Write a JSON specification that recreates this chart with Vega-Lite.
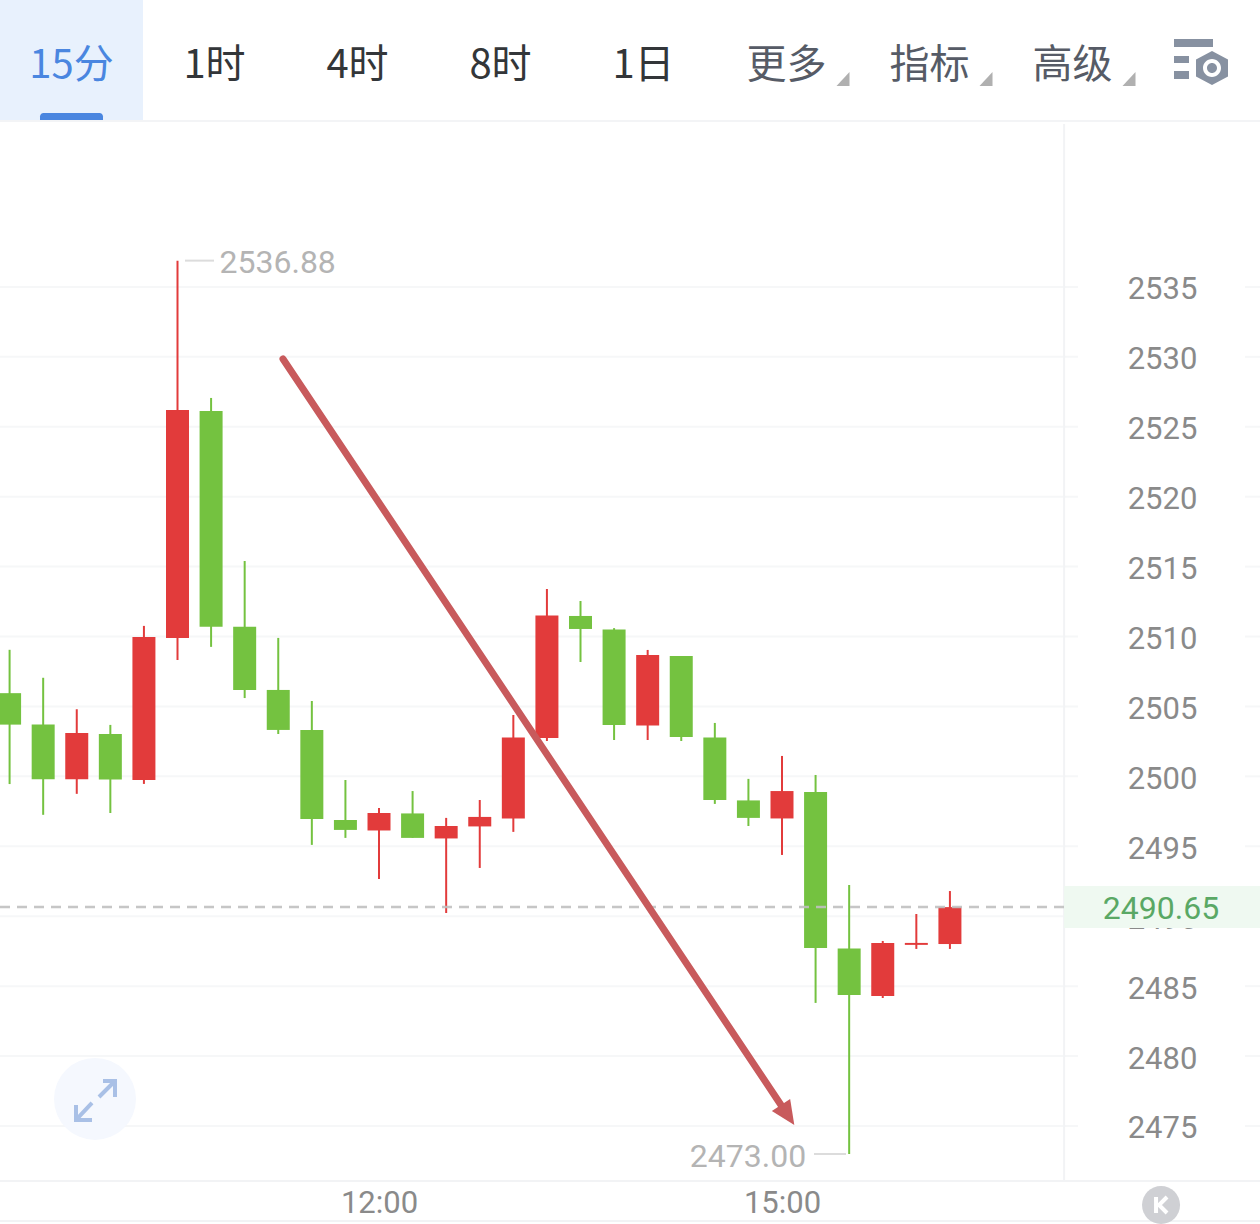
{
"$schema":"https://vega.github.io/schema/vega-lite/v6.json",
"padding":0,
"autosize":{"type":"pad"},
"background":"#ffffff",
"spacing":0,
"resolve":{"scale":{"color":"independent"}},
"config":{"view":{"stroke":null},"concat":{"spacing":0},"axis":{"title":null}},
"datasets":{
"tabs":[
{"label":"15分","group":"active"},
{"label":"1时","group":"plain"},
{"label":"4时","group":"plain"},
{"label":"8时","group":"plain"},
{"label":"1日","group":"plain"},
{"label":"更多","group":"menu"},
{"label":"指标","group":"menu"},
{"label":"高级","group":"menu"},
{"label":"设置","group":"icon"}
],
"candles":[
{"time":"2024-01-01T09:15:00","high":2509.05,"open":2505.95,"close":2503.7,"low":2499.45,"dir":"down"},
{"time":"2024-01-01T09:30:00","high":2507.05,"open":2503.7,"close":2499.8,"low":2497.25,"dir":"down"},
{"time":"2024-01-01T09:45:00","high":2504.8,"open":2499.8,"close":2503.1,"low":2498.75,"dir":"up"},
{"time":"2024-01-01T10:00:00","high":2503.68,"open":2503.03,"close":2499.78,"low":2497.38,"dir":"down"},
{"time":"2024-01-01T10:15:00","high":2510.76,"open":2499.74,"close":2509.97,"low":2499.46,"dir":"up"},
{"time":"2024-01-01T10:30:00","high":2536.88,"open":2509.9,"close":2526.2,"low":2508.33,"dir":"up"},
{"time":"2024-01-01T10:45:00","high":2527.06,"open":2526.13,"close":2510.69,"low":2509.26,"dir":"down"},
{"time":"2024-01-01T11:00:00","high":2515.4,"open":2510.69,"close":2506.18,"low":2505.6,"dir":"down"},
{"time":"2024-01-01T11:15:00","high":2509.9,"open":2506.18,"close":2503.32,"low":2503.03,"dir":"down"},
{"time":"2024-01-01T11:30:00","high":2505.39,"open":2503.32,"close":2496.95,"low":2495.1,"dir":"down"},
{"time":"2024-01-01T11:45:00","high":2499.74,"open":2496.88,"close":2496.17,"low":2495.6,"dir":"down"},
{"time":"2024-01-01T12:00:00","high":2497.74,"open":2496.13,"close":2497.38,"low":2492.66,"dir":"up"},
{"time":"2024-01-01T12:15:00","high":2498.95,"open":2497.35,"close":2495.6,"low":2495.6,"dir":"down"},
{"time":"2024-01-01T12:30:00","high":2497.03,"open":2495.56,"close":2496.45,"low":2490.23,"dir":"up"},
{"time":"2024-01-01T12:45:00","high":2498.31,"open":2496.42,"close":2497.1,"low":2493.45,"dir":"up"},
{"time":"2024-01-01T13:00:00","high":2504.39,"open":2496.99,"close":2502.78,"low":2496.03,"dir":"up"},
{"time":"2024-01-01T13:15:00","high":2513.4,"open":2502.75,"close":2511.5,"low":2502.53,"dir":"up"},
{"time":"2024-01-01T13:30:00","high":2512.54,"open":2511.47,"close":2510.54,"low":2508.18,"dir":"down"},
{"time":"2024-01-01T13:45:00","high":2510.6,"open":2510.5,"close":2503.68,"low":2502.6,"dir":"down"},
{"time":"2024-01-01T14:00:00","high":2509.04,"open":2503.64,"close":2508.68,"low":2502.6,"dir":"up"},
{"time":"2024-01-01T14:15:00","high":2508.6,"open":2508.6,"close":2502.82,"low":2502.53,"dir":"down"},
{"time":"2024-01-01T14:30:00","high":2503.82,"open":2502.78,"close":2498.31,"low":2498.03,"dir":"down"},
{"time":"2024-01-01T14:45:00","high":2499.82,"open":2498.28,"close":2497.03,"low":2496.45,"dir":"down"},
{"time":"2024-01-01T15:00:00","high":2501.46,"open":2496.99,"close":2498.95,"low":2494.38,"dir":"up"},
{"time":"2024-01-01T15:15:00","high":2500.1,"open":2498.89,"close":2487.73,"low":2483.8,"dir":"down"},
{"time":"2024-01-01T15:30:00","high":2492.24,"open":2487.69,"close":2484.37,"low":2473.0,"dir":"down"},
{"time":"2024-01-01T15:45:00","high":2488.23,"open":2484.3,"close":2488.09,"low":2484.15,"dir":"up"},
{"time":"2024-01-01T16:00:00","high":2490.16,"open":2487.95,"close":2488.09,"low":2487.66,"dir":"up"},
{"time":"2024-01-01T16:15:00","high":2491.8,"open":2488.01,"close":2490.65,"low":2487.66,"dir":"up"}
],
"levels":[{"price":2475},{"price":2480},{"price":2485},{"price":2490},{"price":2495},{"price":2500},{"price":2505},{"price":2510},{"price":2515},{"price":2520},{"price":2525},{"price":2530},{"price":2535}],
"extremes":[
{"time":"2024-01-01T10:30:00","price":2536.88,"from":"2024-01-01T10:33:21","to":"2024-01-01T10:46:18","label":"2536.88"},
{"time":"2024-01-01T15:30:00","price":2473.0,"from":"2024-01-01T15:14:18","to":"2024-01-01T15:28:36","label":"2473.00"}
],
"arrow":[{"from":"2024-01-01T11:17:07","to":"2024-01-01T14:59:33","start":2529.85,"end":2476.5}],
"last":[{"price":2490.65,"label":"2490.65","boxTop":2492.16,"boxBottom":2489.16}]
},
"vconcat":[
{
"width":1260,"height":124,
"data":{"name":"tabs"},
"encoding":{"x":{"field":"label","type":"nominal","sort":null,"axis":null,"scale":{"type":"band","domain":["15分","1时","4时","8时","1日","更多","指标","高级","设置"],"range":[0,1287],"paddingInner":0,"paddingOuter":0}}},
"layer":[
{"transform":[{"filter":"datum.group==='active'"}],"mark":{"type":"rule","color":"#f3f4f6","strokeWidth":2,"clip":true},
 "encoding":{"x":null,"y":{"datum":121,"type":"quantitative","axis":null,"scale":{"domain":[124,0],"nice":false,"zero":false}}}},
{"transform":[{"filter":"datum.group==='active'"}],"mark":{"type":"bar","color":"#e8f1fd","width":{"band":1}},
 "encoding":{"y":{"datum":0,"type":"quantitative"},"y2":{"datum":120}}},
{"transform":[{"filter":"datum.group==='active'"}],"mark":{"type":"bar","color":"#4a86e0","size":63,"cornerRadiusTopLeft":6,"cornerRadiusTopRight":6},
 "encoding":{"y":{"datum":113,"type":"quantitative"},"y2":{"datum":120}}},
{"transform":[{"filter":"datum.group!=='icon'"}],"mark":{"type":"text","font":"Noto Sans CJK SC","fontSize":40,"fontWeight":400,"yOffset":4},
 "encoding":{"text":{"field":"label"},"color":{"field":"group","type":"nominal","legend":null,"scale":{"domain":["active","plain","menu"],"range":["#4a86e0","#333639","#565b66"]}}}},
{"transform":[{"filter":"datum.group==='menu'"}],"mark":{"type":"point","filled":true,"size":4,"opacity":1,"strokeWidth":0,"color":"#b0b0b0","shape":"M50,24L63,10L63,24Z"}},
{"transform":[{"filter":"datum.group==='icon'"}],"mark":{"type":"point","filled":true,"size":4,"opacity":1,"strokeWidth":0,"color":"#8791a1","shape":"M-41.5,-23L-2.5,-23L-2.5,-15L-41.5,-15ZM-41.5,-6L-26.5,-6L-26.5,1L-41.5,1ZM-41.5,9L-26.5,9L-26.5,17L-41.5,17ZM-3.5,-11L12.5,-2.5L12.5,14.5L-3.5,23L-19.5,14.5L-19.5,-2.5ZM5.5,6A9,9 0 1 0 -12.5,6A9,9 0 1 0 5.5,6ZM-8.5,6A5,5 0 1 1 1.5,6A5,5 0 1 1 -8.5,6Z"}}
]
},
{
"width":1260,"height":1100,
"layer":[
{"data":{"name":"levels"},"mark":{"type":"rule","color":"#f6f7f8","strokeWidth":2,"clip":true},
 "encoding":{
  "x":{"datum":{"year":2024,"month":1,"date":1,"hours":9,"minutes":10,"seconds":43},"type":"temporal",
   "scale":{"domain":[{"year":2024,"month":1,"date":1,"hours":9,"minutes":10,"seconds":43},{"year":2024,"month":1,"date":1,"hours":18,"minutes":33,"seconds":30}],"nice":false,"padding":0},
   "axis":{"orient":"bottom","offset":-21,"values":[{"year":2024,"month":1,"date":1,"hours":12,"minutes":0},{"year":2024,"month":1,"date":1,"hours":15,"minutes":0}],"format":"%H:%M","domain":false,"ticks":false,"grid":false,"labelPadding":0,"labelBaseline":"middle","labelAlign":"center","labelFont":"Roboto","labelFontSize":31,"labelColor":"#8a8a8a","labelFlush":false,"labelOverlap":false,"labelBound":false}},
  "x2":{"datum":{"year":2024,"month":1,"date":1,"hours":17,"minutes":12,"seconds":13}},
  "y":{"field":"price","type":"quantitative",
   "scale":{"domain":[2467.99,2546.65],"nice":false,"zero":false},
   "axis":{"orient":"left","offset":-1162,"values":[2475,2480,2485,2490,2495,2500,2505,2510,2515,2520,2525,2530,2535],"format":"d","domain":false,"ticks":false,"grid":false,"labelPadding":0,"labelAlign":"center","labelBaseline":"middle","labelOffset":3,"labelFont":"Roboto","labelFontSize":31,"labelColor":"#8a8a8a","labelFlush":false,"labelOverlap":false,"labelBound":false}}
 }},
{"data":{"name":"levels"},"mark":{"type":"rule","color":"#f6f7f8","strokeWidth":2,"clip":true},
 "encoding":{
  "x":{"datum":{"year":2024,"month":1,"date":1,"hours":18,"minutes":26,"seconds":48},"type":"temporal"},
  "x2":{"datum":{"year":2024,"month":1,"date":1,"hours":18,"minutes":33,"seconds":30}},
  "y":{"field":"price","type":"quantitative"}
 }},
{"data":{"name":"last"},"mark":{"type":"rule","color":"#f2f3f5","strokeWidth":2,"clip":true},
 "encoding":{"x":{"datum":{"year":2024,"month":1,"date":1,"hours":17,"minutes":6},"type":"temporal"},"y":{"datum":2546.65,"type":"quantitative"},"y2":{"datum":2471.07}}},
{"data":{"name":"last"},"mark":{"type":"rule","color":"#f2f3f5","strokeWidth":2,"clip":true},
 "encoding":{"x":{"datum":{"year":2024,"month":1,"date":1,"hours":9,"minutes":10,"seconds":43},"type":"temporal"},"x2":{"datum":{"year":2024,"month":1,"date":1,"hours":18,"minutes":33,"seconds":30}},"y":{"datum":2471.07,"type":"quantitative"}}},
{"data":{"name":"last"},"mark":{"type":"rule","color":"#f2f3f5","strokeWidth":2,"clip":true},
 "encoding":{"x":{"datum":{"year":2024,"month":1,"date":1,"hours":9,"minutes":10,"seconds":43},"type":"temporal"},"x2":{"datum":{"year":2024,"month":1,"date":1,"hours":18,"minutes":33,"seconds":30}},"y":{"datum":2468.2,"type":"quantitative"}}},
{"data":{"name":"last"},"mark":{"type":"rect","color":"#eff9f1","clip":true},
 "encoding":{"x":{"datum":{"year":2024,"month":1,"date":1,"hours":17,"minutes":6},"type":"temporal"},"x2":{"datum":{"year":2024,"month":1,"date":1,"hours":18,"minutes":33,"seconds":30}},"y":{"field":"boxTop","type":"quantitative"},"y2":{"field":"boxBottom"}}},
{"data":{"name":"candles"},"mark":{"type":"rule","strokeWidth":2,"clip":true},
 "encoding":{"x":{"field":"time","type":"temporal"},"y":{"field":"high","type":"quantitative"},"y2":{"field":"low"},
  "color":{"field":"dir","type":"nominal","legend":null,"scale":{"domain":["up","down"],"range":["#e23b3b","#74c240"]}}}},
{"data":{"name":"candles"},"mark":{"type":"bar","size":23,"clip":true},
 "encoding":{"x":{"field":"time","type":"temporal"},"y":{"field":"open","type":"quantitative"},"y2":{"field":"close"},
  "color":{"field":"dir","type":"nominal","legend":null}}},
{"data":{"name":"last"},"mark":{"type":"rule","color":"#c0c0c0","strokeWidth":2.5,"strokeDash":[10,7],"opacity":0.9,"clip":true},
 "encoding":{"x":{"datum":{"year":2024,"month":1,"date":1,"hours":9,"minutes":10,"seconds":43},"type":"temporal"},"x2":{"datum":{"year":2024,"month":1,"date":1,"hours":17,"minutes":6}},"y":{"field":"price","type":"quantitative"}}},
{"data":{"name":"extremes"},"mark":{"type":"rule","color":"#dcdcdc","strokeWidth":2},
 "encoding":{"x":{"field":"from","type":"temporal"},"x2":{"field":"to"},"y":{"field":"price","type":"quantitative"}}},
{"data":{"name":"extremes"},"transform":[{"filter":"datum.price>2500"}],"mark":{"type":"text","align":"left","dx":42,"dy":2,"font":"Roboto","fontSize":32,"color":"#b4b4b4"},
 "encoding":{"x":{"field":"time","type":"temporal"},"y":{"field":"price","type":"quantitative"},"text":{"field":"label"}}},
{"data":{"name":"extremes"},"transform":[{"filter":"datum.price<2500"}],"mark":{"type":"text","align":"right","dx":-43,"dy":3,"font":"Roboto","fontSize":32,"color":"#b4b4b4"},
 "encoding":{"x":{"field":"time","type":"temporal"},"y":{"field":"price","type":"quantitative"},"text":{"field":"label"}}},
{"data":{"name":"arrow"},"mark":{"type":"rule","color":"#c85a5c","strokeWidth":7,"strokeCap":"round"},
 "encoding":{"x":{"field":"from","type":"temporal"},"x2":{"field":"to"},"y":{"field":"start","type":"quantitative"},"y2":{"field":"end"}}},
{"data":{"name":"arrow"},"mark":{"type":"point","filled":true,"size":4,"opacity":1,"strokeWidth":0,"color":"#c85a5c","shape":"M0,24L-11,0L11,0Z","angle":-33.7},
 "encoding":{"x":{"field":"to","type":"temporal"},"y":{"field":"end","type":"quantitative"}}},
{"data":{"name":"last"},"mark":{"type":"text","font":"Roboto","fontSize":32,"color":"#5aa865","dy":2},
 "encoding":{"y":{"field":"price","type":"quantitative"},"x":{"datum":{"year":2024,"month":1,"date":1,"hours":17,"minutes":49,"seconds":18},"type":"temporal"},"text":{"field":"label"}}},
{"data":{"name":"last"},"mark":{"type":"point","filled":true,"size":6724,"opacity":1,"strokeWidth":0,"color":"#f5f8fe","shape":"circle"},
 "encoding":{"x":{"datum":{"year":2024,"month":1,"date":1,"hours":9,"minutes":53,"seconds":9},"type":"temporal"},"y":{"datum":2476.93,"type":"quantitative"}}},
{"data":{"name":"last"},"mark":{"type":"point","filled":false,"size":4,"opacity":1,"strokeWidth":4,"color":"#a9c0e6","shape":"M4,-2L20,-18M8,-18L20,-18L20,-2M-3,4L-19,21M-19,6L-19,21L-3,21"},
 "encoding":{"x":{"datum":{"year":2024,"month":1,"date":1,"hours":9,"minutes":53,"seconds":9},"type":"temporal"},"y":{"datum":2476.93,"type":"quantitative"}}},
{"data":{"name":"last"},"mark":{"type":"point","filled":true,"size":1444,"opacity":1,"strokeWidth":0,"color":"#cfd0d4","shape":"circle"},
 "encoding":{"x":{"datum":{"year":2024,"month":1,"date":1,"hours":17,"minutes":49,"seconds":18},"type":"temporal"},"y":{"datum":2469.35,"type":"quantitative"}}},
{"data":{"name":"last"},"mark":{"type":"point","filled":false,"size":4,"opacity":1,"strokeWidth":4,"color":"#ffffff","shape":"M-5,-8L-5,8M6,-8L-2,0L6,8"},
 "encoding":{"x":{"datum":{"year":2024,"month":1,"date":1,"hours":17,"minutes":49,"seconds":18},"type":"temporal"},"y":{"datum":2469.35,"type":"quantitative"}}}
]
}
]
}
